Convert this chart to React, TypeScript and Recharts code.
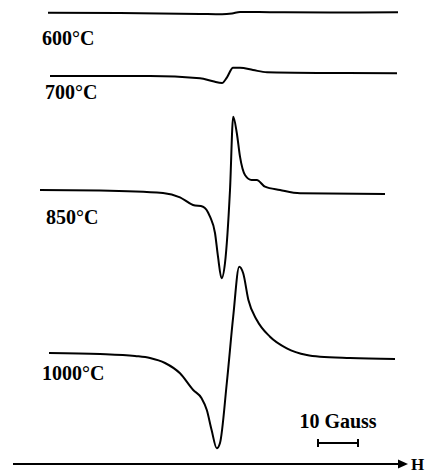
import React from 'react';
import { LineChart, Line, XAxis, YAxis, ReferenceLine, ReferenceDot } from 'recharts';

// field relative to line centre (Gauss) and derivative signal (arb. units) per anneal temperature
const field600 = [-45.5, -27.5, -7.5, -2, 0.5, 2.5, 10, 25, 42];
const amp600 = [0.3, 0, -1, -1.3, -0.5, 1, 0.8, 0.5, 0.7];

const field700 = [-45, -20, -7.5, -4.25, -2, -0.75, 0.75, 2.5, 5.75, 9.25, 25, 41.75];
const amp700 = [-1, -1, -3.3, -6.3, -8, -2.3, 7.3, 7.3, 5, 2.7, 2, 1.7];

const field850 = [-47.5, -32.5, -16.75, -12.5, -9.25, -6.75, -5, -3.75, -3, -2.1, -1.25, 0, 0.8, 1.7, 2.5, 3.75, 5.4, 6.7, 8.75, 12.5, 17.5, 38.75];
const amp850 = [2, 1.5, -1, -5.3, -13, -14.7, -24.7, -41, -64.7, -86.3, -71, 2, 75.3, 59, 35.3, 17, 12, 12, 5.3, 2, -1.3, -2];

const field1000 = [-45.25, -32.5, -23.75, -20, -16.25, -12.5, -9.2, -7.1, -5.8, -4.6, -3.3, -2.5, -0.8, 0.8, 2.3, 3.3, 4.6, 6.7, 10, 14.2, 19.2, 22.5, 30, 41.25];
const amp1000 = [3, 2, 0, -2, -7, -17.3, -34, -42.3, -54, -74, -92.3, -87, -27, 39.3, 89.3, 82.7, 56, 36, 19.3, 7.7, 1, -0.7, -2, -3];

const traceLabels = ['600°C', '700°C', '850°C', '1000°C'];
const traceOffsets = [0, -62, -179, -343];
const scaleBar = [22, 32]; // 10 Gauss

const traces = [
  [field600, amp600],
  [field700, amp700],
  [field850, amp850],
  [field1000, amp1000],
].map(([f, a], i) => f.map((g, j) => ({ g, y: a[j] + traceOffsets[i] })));

const FONT = "'Liberation Serif', 'Times New Roman', serif";

const TextLabel = ({ viewBox, text, anchor = 'start', size = 20 }: any) => (
  <text
    x={viewBox.x}
    y={viewBox.y}
    textAnchor={anchor}
    fontFamily={FONT}
    fontWeight="bold"
    fontSize={size}
    fill="#000"
  >
    {text}
  </text>
);

const arrowHead = (p: any) => (
  <polygon
    points={`${p.cx},${p.cy} ${p.cx - 10},${p.cy - 4.5} ${p.cx - 10},${p.cy + 4.5}`}
    fill="#000"
  />
);

const labelPos = [
  { g: -47, y: -32 },
  { g: -46.25, y: -86 },
  { g: -46, y: -211 },
  { g: -47, y: -367 },
];

export default function App() {
  return (
    <div style={{ position: 'absolute', left: 0, top: 0, background: '#fff' }}>
      <LineChart width={425} height={474} margin={{ top: 0, right: 0, bottom: 0, left: 0 }}>
        <XAxis type="number" dataKey="g" domain={[-57.5, 48.75]} allowDataOverflow hide />
        <YAxis type="number" domain={[-461, 13]} allowDataOverflow hide />
        {traces.map((d, i) => (
          <Line
            key={traceLabels[i]}
            data={d}
            dataKey="y"
            type="monotone"
            stroke="#000"
            strokeWidth={2}
            dot={false}
            activeDot={false}
            isAnimationActive={false}
          />
        ))}
        {traceLabels.map((t, i) => (
          <ReferenceDot
            key={t}
            x={labelPos[i].g}
            y={labelPos[i].y}
            r={0}
            fill="none"
            stroke="none"
            label={<TextLabel text={t} />}
          />
        ))}
        {/* field axis */}
        <ReferenceLine
          segment={[{ x: -54.25, y: -451 }, { x: 42.5, y: -451 }]}
          stroke="#000"
          strokeWidth={2}
        />
        <ReferenceDot x={44.5} y={-451} r={0} shape={arrowHead} />
        <ReferenceDot x={45.25} y={-457} r={0} fill="none" stroke="none" label={<TextLabel text="H" size={17} />} />
        {/* scale bar */}
        <ReferenceLine segment={[{ x: scaleBar[0], y: -430 }, { x: scaleBar[1], y: -430 }]} stroke="#000" strokeWidth={2} />
        <ReferenceLine segment={[{ x: scaleBar[0], y: -426 }, { x: scaleBar[0], y: -434 }]} stroke="#000" strokeWidth={2} />
        <ReferenceLine segment={[{ x: scaleBar[1], y: -426 }, { x: scaleBar[1], y: -434 }]} stroke="#000" strokeWidth={2} />
        <ReferenceDot x={27} y={-415} r={0} fill="none" stroke="none" label={<TextLabel text="10 Gauss" anchor="middle" />} />
      </LineChart>
    </div>
  );
}
